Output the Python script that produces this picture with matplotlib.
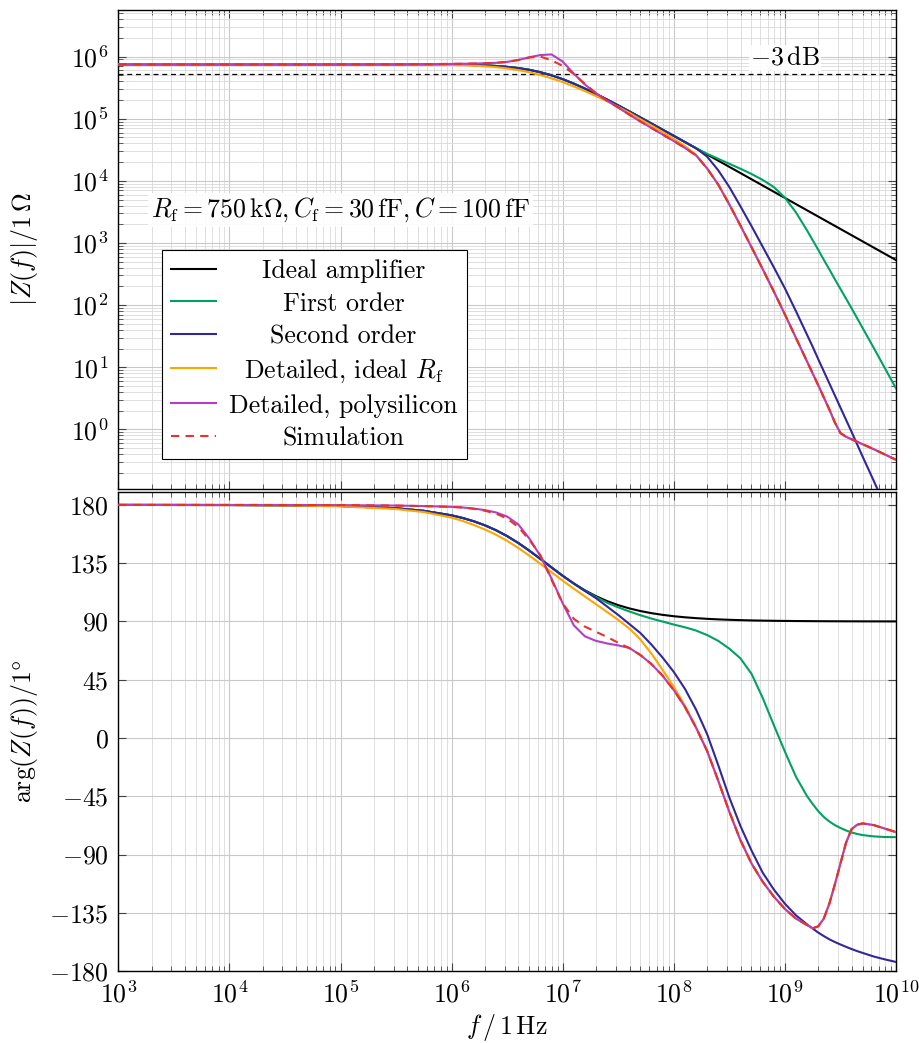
import numpy as np
import matplotlib
matplotlib.use("Agg")
import matplotlib.pyplot as plt
from matplotlib.ticker import LogLocator, FixedLocator, NullFormatter
from matplotlib.offsetbox import VPacker, DrawingArea

# ---------------- data ----------------
log_f = [3.0, 4.0, 4.5, 5.0, 5.5, 5.75,
         6.0, 6.1, 6.2, 6.3, 6.4, 6.5, 6.6, 6.7, 6.8, 6.9,
         7.0, 7.1, 7.2, 7.3, 7.4, 7.5, 7.6, 7.7, 7.8, 7.9,
         8.0, 8.1, 8.2, 8.3, 8.4, 8.5, 8.6, 8.7, 8.8, 8.9,
         9.0, 9.1, 9.2, 9.25, 9.3, 9.35, 9.4, 9.45, 9.5, 9.55, 9.6, 9.65, 9.7,
         9.8, 9.9, 10.0]

# log10 |Z| / 1 Ohm
ideal_mag = [5.875, 5.875, 5.875, 5.875, 5.875, 5.874,
             5.871, 5.868, 5.864, 5.858, 5.849, 5.835, 5.815, 5.787, 5.748, 5.698,
             5.637, 5.565, 5.485, 5.399, 5.308, 5.214, 5.118, 5.020, 4.922, 4.823,
             4.724, 4.625, 4.525, 4.425, 4.325, 4.225, 4.125, 4.025, 3.925, 3.825,
             3.725, 3.625, 3.525, 3.475, 3.425, 3.375, 3.325, 3.275, 3.225, 3.175, 3.125, 3.075, 3.025,
             2.925, 2.825, 2.725]
first_mag = [5.875, 5.875, 5.875, 5.875, 5.875, 5.874,
             5.871, 5.868, 5.864, 5.858, 5.849, 5.835, 5.815, 5.787, 5.748, 5.698,
             5.637, 5.565, 5.485, 5.399, 5.308, 5.214, 5.118, 5.020, 4.922, 4.823,
             4.724, 4.625, 4.525, 4.435, 4.355, 4.275, 4.195, 4.110, 4.015, 3.900,
             3.730, 3.490, 3.200, 3.045, 2.890, 2.730, 2.575, 2.415, 2.260, 2.105, 1.950, 1.790, 1.630,
             1.310, 0.985, 0.660]
second_mag = [5.875, 5.875, 5.875, 5.875, 5.875, 5.874,
              5.871, 5.868, 5.864, 5.858, 5.849, 5.835, 5.815, 5.787, 5.748, 5.698,
              5.637, 5.565, 5.485, 5.399, 5.308, 5.214, 5.118, 5.020, 4.922, 4.823,
              4.724, 4.625, 4.525, 4.390, 4.170, 3.900, 3.590, 3.270, 2.940, 2.610,
              2.270, 1.900, 1.520, 1.330, 1.130, 0.935, 0.740, 0.545, 0.350, 0.155, -0.040, -0.240, -0.440,
              -0.830, -1.230, -1.620]
ideal_rf_mag = [5.875, 5.875, 5.875, 5.875, 5.874, 5.872,
                5.866, 5.861, 5.854, 5.844, 5.830, 5.810, 5.783, 5.748, 5.703, 5.650,
                5.590, 5.520, 5.445, 5.365, 5.280, 5.190, 5.095, 4.990, 4.890, 4.785,
                4.675, 4.560, 4.420, 4.200, 3.940, 3.620, 3.280, 2.930, 2.580, 2.220,
                1.850, 1.470, 1.090, 0.900, 0.710, 0.515, 0.320, 0.110, -0.060, -0.120, -0.160, -0.200, -0.240,
                -0.320, -0.405, -0.490]
poly_mag = [5.875, 5.875, 5.875, 5.876, 5.877, 5.879,
            5.882, 5.885, 5.888, 5.893, 5.900, 5.915, 5.945, 5.990, 6.025, 6.035,
            5.920, 5.725, 5.550, 5.410, 5.290, 5.180, 5.065, 4.955, 4.850, 4.745,
            4.640, 4.530, 4.410, 4.200, 3.940, 3.620, 3.280, 2.930, 2.580, 2.220,
            1.850, 1.470, 1.090, 0.900, 0.710, 0.515, 0.320, 0.110, -0.060, -0.120, -0.160, -0.200, -0.240,
            -0.320, -0.405, -0.490]
sim_mag = [5.875, 5.875, 5.875, 5.876, 5.877, 5.879,
           5.882, 5.885, 5.888, 5.893, 5.900, 5.915, 5.945, 5.985, 6.000, 5.940,
           5.850, 5.720, 5.560, 5.410, 5.290, 5.180, 5.065, 4.955, 4.850, 4.745,
           4.640, 4.530, 4.410, 4.200, 3.940, 3.620, 3.280, 2.930, 2.580, 2.220,
           1.850, 1.470, 1.090, 0.900, 0.710, 0.515, 0.320, 0.110, -0.060, -0.120, -0.160, -0.200, -0.240,
           -0.320, -0.405, -0.490]

# arg Z in degrees
ideal_ph = [180.0, 179.92, 179.74, 179.19, 177.44, 175.45,
            171.96, 169.91, 167.37, 164.25, 160.45, 155.91, 150.62, 144.66, 138.27, 131.69,
            125.27, 119.33, 114.05, 109.52, 105.72, 102.60, 100.07, 98.03, 96.39, 95.09,
            94.04, 93.22, 92.56, 92.03, 91.61, 91.28, 91.02, 90.81, 90.64, 90.51,
            90.41, 90.32, 90.26, 90.23, 90.20, 90.18, 90.16, 90.14, 90.13, 90.11, 90.10, 90.09, 90.08,
            90.06, 90.05, 90.04]
first_ph = [180.0, 179.92, 179.74, 179.19, 177.44, 175.45,
            171.96, 169.91, 167.37, 164.25, 160.45, 155.91, 150.62, 144.66, 138.27, 131.69,
            125.20, 119.10, 113.70, 108.90, 104.40, 100.90, 97.70, 94.80, 92.20, 89.90,
            87.60, 85.50, 83.00, 79.50, 75.00, 69.00, 61.50, 49.50, 31.00, 10.00,
            -10.50, -30.00, -45.00, -51.00, -56.50, -61.00, -64.50, -67.30, -69.50, -71.40, -73.00, -74.10, -75.00,
            -76.00, -76.50, -76.60]
second_ph = [180.0, 179.92, 179.74, 179.19, 177.44, 175.45,
             171.96, 169.91, 167.37, 164.25, 160.45, 155.91, 150.62, 144.66, 138.27, 131.69,
             125.27, 119.33, 113.50, 108.00, 101.50, 95.00, 88.00, 81.00, 72.00, 62.00,
             51.00, 38.00, 22.00, 3.00, -21.00, -46.00, -68.00, -87.00, -104.00, -117.00,
             -128.00, -137.00, -144.00, -147.20, -150.30, -153.00, -155.50, -157.60, -159.50, -161.30, -163.00, -164.60, -166.00,
             -168.80, -171.00, -173.00]
ideal_rf_ph = [180.0, 179.90, 179.65, 178.90, 176.80, 174.50,
               170.20, 167.60, 164.50, 161.00, 157.00, 152.20, 146.80, 140.80, 134.50, 128.00,
               121.50, 115.30, 109.30, 103.30, 97.30, 91.20, 84.50, 76.00, 65.00, 52.50,
               39.50, 25.00, 8.50, -10.00, -33.00, -57.00, -79.00, -97.00, -111.00, -122.50,
               -132.00, -139.50, -144.50, -147.00, -145.50, -139.50, -128.00, -113.00, -97.00, -81.00, -70.50, -67.00, -66.00,
               -67.30, -70.00, -72.70]
poly_ph = [180.0, 180.0, 179.95, 179.85, 179.50, 179.10,
           178.50, 178.00, 177.20, 176.00, 174.20, 171.00, 165.00, 154.00, 140.50, 123.00,
           104.00, 87.00, 78.50, 75.00, 73.00, 71.50, 69.50, 64.00, 57.00, 48.00,
           37.00, 24.00, 8.00, -10.00, -33.00, -57.00, -79.00, -97.00, -111.00, -122.50,
           -132.00, -139.50, -144.50, -147.00, -145.50, -139.50, -128.00, -113.00, -97.00, -81.00, -70.50, -67.00, -66.00,
           -67.30, -70.00, -72.70]
sim_ph = [180.0, 180.0, 179.95, 179.85, 179.50, 179.10,
          178.50, 178.00, 177.00, 175.50, 173.30, 169.50, 163.00, 153.00, 141.00, 122.00,
          104.00, 92.00, 86.00, 82.00, 78.00, 73.50, 69.50, 64.00, 57.00, 48.00,
          37.00, 24.00, 8.00, -10.00, -33.00, -57.00, -79.00, -97.00, -111.00, -122.50,
          -132.00, -139.50, -144.50, -147.00, -145.50, -139.50, -128.00, -113.00, -97.00, -81.00, -70.50, -67.00, -66.00,
          -67.30, -70.00, -72.70]

labels = ["Ideal amplifier", "First order", "Second order",
          r"Detailed, ideal $R_\mathrm{f}$", "Detailed, polysilicon", "Simulation"]
colors = ["#000000", "#00a262", "#30289a", "#ffa500", "#b23fc4", "#e8312c"]
level_3db = 5.3e5
x_ticks = [1e3, 1e4, 1e5, 1e6, 1e7, 1e8, 1e9, 1e10]
mag_ticks = [1e0, 1e1, 1e2, 1e3, 1e4, 1e5, 1e6]
phase_ticks = [-180, -135, -90, -45, 0, 45, 90, 135, 180]

# ---------------- style ----------------
FS = 18.6
plt.rcParams["font.family"] = "cmr10"
plt.rcParams["mathtext.fontset"] = "cm"
plt.rcParams["axes.formatter.use_mathtext"] = True
plt.rcParams["font.size"] = FS

f = 10.0 ** np.array(log_f)
mags = [10.0 ** np.array(m) for m in (ideal_mag, first_mag, second_mag, ideal_rf_mag, poly_mag, sim_mag)]
phs = [np.array(p) for p in (ideal_ph, first_ph, second_ph, ideal_rf_ph, poly_ph, sim_ph)]

fig = plt.figure(figsize=(9.2, 10.43), dpi=100)
ax1 = fig.add_axes([0.1286, 0.5312, 0.8453, 0.4592])
ax2 = fig.add_axes([0.1286, 0.0690, 0.8453, 0.4593])

grid_major = dict(color="#c9c9c9", linewidth=0.8)
grid_minor = dict(color="#d9d9d9", linewidth=0.6)

for ax in (ax1, ax2):
    ax.set_xscale("log")
    ax.set_xlim(1e3, 1e10)
    ax.xaxis.set_major_locator(FixedLocator(x_ticks))
    ax.xaxis.set_minor_locator(LogLocator(base=10, subs=np.arange(2, 10), numticks=100))
    ax.xaxis.set_minor_formatter(NullFormatter())
    ax.tick_params(which="both", direction="in", top=True, right=True, color="#444444")
    ax.tick_params(which="major", length=6, width=0.8, pad=7)
    ax.tick_params(which="minor", length=3.5, width=0.6)
    for s in ax.spines.values():
        s.set_linewidth(1.0)
    ax.set_axisbelow(True)

# top panel
ax1.set_yscale("log")
ax1.set_ylim(10 ** -0.96, 10 ** 6.75)
ax1.yaxis.set_major_locator(FixedLocator(mag_ticks))
ax1.yaxis.set_minor_locator(LogLocator(base=10, subs=np.arange(2, 10), numticks=100))
ax1.yaxis.set_minor_formatter(NullFormatter())
ax1.grid(True, which="major", **grid_major)
ax1.grid(True, which="minor", **grid_minor)
ax1.tick_params(labelbottom=False)
ax1.axhline(level_3db, color="black", linewidth=0.9, linestyle=(0, (4, 3)), zorder=1.5)

handles = []
for i in range(6):
    ls = (0, (4, 3)) if i == 5 else "-"
    (ln,) = ax1.plot(f, mags[i], color=colors[i], linewidth=1.5, linestyle=ls, label=labels[i], zorder=2 + i)
    handles.append(ln)
    ax2.plot(f, phs[i], color=colors[i], linewidth=1.5, linestyle=ls, zorder=2 + i)

ax1.set_ylabel(r"$|Z(f)|/1\,\Omega$")
ax1.yaxis.set_label_coords(-0.101, 0.5)

ax1.text(1e5, 10 ** 3.53, r"$R_\mathrm{f} = 750\,\mathrm{k}\Omega, C_\mathrm{f} = 30\,\mathrm{fF}, C = 100\,\mathrm{fF}$",
         ha="center", va="center", zorder=20,
         bbox=dict(facecolor="white", edgecolor="none", pad=2, alpha=0.9))
ax1.annotate(r"$-3\,\mathrm{dB}$", xy=(1e9, level_3db), xytext=(0, 3), textcoords="offset points",
             ha="center", va="bottom", zorder=20,
             bbox=dict(facecolor="white", edgecolor="none", pad=1, alpha=0.9))

leg = ax1.legend(handles=handles, labels=labels, loc="upper left", bbox_to_anchor=(0.0562, 0.499),
                 borderaxespad=0, frameon=True, fancybox=False, edgecolor="black", framealpha=1,
                 handlelength=1.75, handletextpad=0.5, labelspacing=0.35, borderpad=0.35, fontsize=FS)
leg.get_frame().set_linewidth(0.8)
leg.set_zorder(30)

# bottom panel
ax2.set_ylim(-180, 190)
ax2.yaxis.set_major_locator(FixedLocator(phase_ticks))
ax2.grid(True, which="major", **grid_major)
ax2.grid(True, which="minor", axis="x", **grid_minor)
ax2.set_ylabel(r"$\arg(Z(f))/1\degree$")
ax2.yaxis.set_label_coords(-0.101, 0.5)
ax2.set_xlabel(r"$f\,/\,1\,\mathrm{Hz}$")
ax2.xaxis.set_label_coords(0.5, -0.085)

# centre the legend texts (pgfplots style)
fig.canvas.draw()
renderer = fig.canvas.get_renderer()
widths = [t.get_window_extent(renderer).width for t in leg.get_texts()]
W = max(widths) * 72.0 / fig.dpi
for col in leg._legend_handle_box.get_children():
    for item in col.get_children():
        kids = item.get_children()
        ta = kids[1]
        item._children[1] = VPacker(children=[ta, DrawingArea(W, 0)], align="center", pad=0, sep=0)

fig.savefig("out.png", dpi=100)
